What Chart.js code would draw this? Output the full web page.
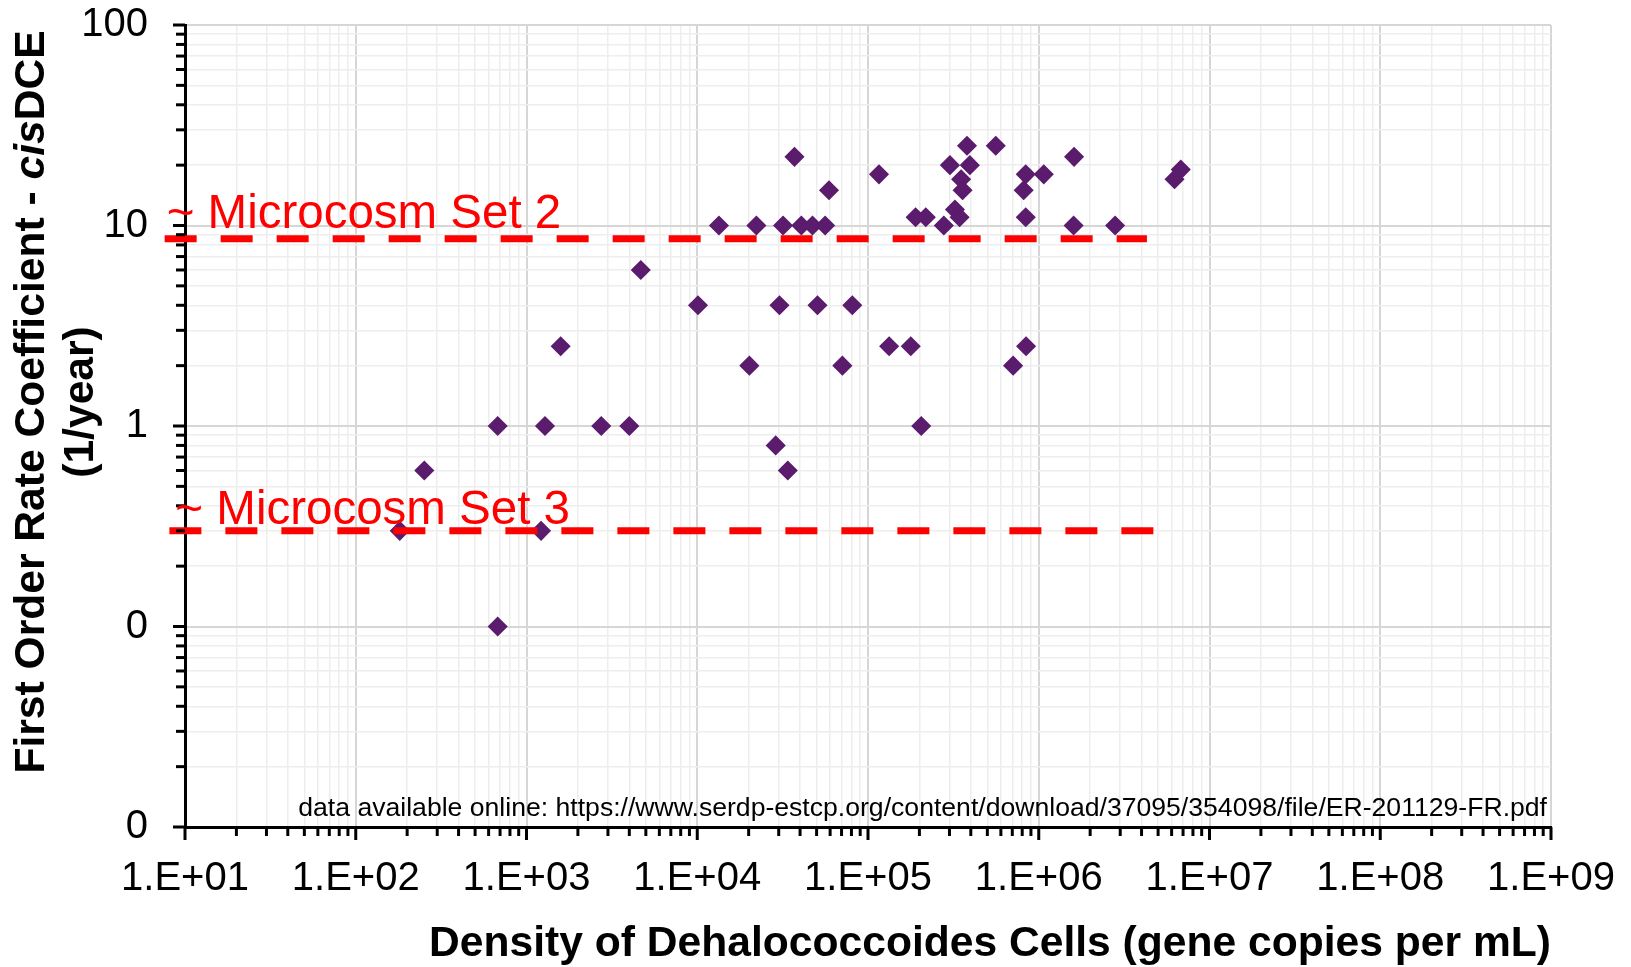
<!DOCTYPE html>
<html>
<head>
<meta charset="utf-8">
<script src="https://cdn.jsdelivr.net/npm/chart.js@4.4.1/dist/chart.umd.min.js"></script>
<style>
  html, body { margin: 0; padding: 0; background: #ffffff; }
  canvas { display: block; }
</style>
</head>
<body>
<canvas id="chart" width="1631" height="967"></canvas>
<script>
// Dehalococcoides cell density (gene copies per mL) and cis-DCE first order rate (1/year)
const densities = [
  181, 252, 678, 678, 1217, 1283, 1585, 2740, 4000, 4670,
  10100, 13400, 20200, 22200, 28800, 30300, 31800, 33900, 37100, 40700,
  47300, 50600, 56100, 59100, 70800, 80900, 116000, 133000, 178000, 190000,
  205000, 218000, 278000, 302000, 323000, 344000, 351000, 358000, 380000, 395000,
  560000, 708000, 839000, 816000, 839000, 843000, 1070000, 1610000, 1600000, 2800000,
  6240000, 6790000
];
const rates = [
  0.3, 0.6, 1, 0.1, 0.3, 1, 2.5, 1, 1, 6,
  4, 10, 2, 10, 0.8, 4, 10, 0.6, 22, 10,
  10, 4, 10, 15, 2, 4, 18, 2.5, 2.5, 11,
  1, 11, 10, 20, 12, 11, 17, 15, 25, 20,
  25, 2, 11, 15, 18, 2.5, 18, 22, 10, 10,
  17, 19
];

// Reference levels from the microcosm studies
const set2Label = '~ Microcosm Set 2';
const set2X = [7.6, 4.3e6];
const set2Y = [8.6, 8.6];
const set3Label = '~ Microcosm Set 3';
const set3X = [8.1, 4.7e6];
const set3Y = [0.3, 0.3];

// Axis decades and their printed labels
const xDecades = [1e1, 1e2, 1e3, 1e4, 1e5, 1e6, 1e7, 1e8, 1e9];
const xTickLabels = ['1.E+01', '1.E+02', '1.E+03', '1.E+04', '1.E+05', '1.E+06', '1.E+07', '1.E+08', '1.E+09'];
const yDecades = [0.01, 0.1, 1, 10, 100];
const yTickLabels = ['0', '0', '1', '10', '100'];

const xTitle = 'Density of Dehalococcoides Cells (gene copies per mL)';
const yTitleParts = [['First Order Rate Coefficient - ', false], ['cis', true], ['DCE', false]];
const yTitleLine2 = '(1/year)';
const sourceNote = 'data available online: https://www.serdp-estcp.org/content/download/37095/354098/file/ER-201129-FR.pdf';

const FONT = '"Liberation Sans", Arial, Helvetica, sans-serif';
const TITLE_SIZE = 42.6;
const PURPLE = '#5b1c6d';
const RED = '#ff0000';

Chart.defaults.font.family = FONT;
Chart.defaults.color = '#000000';

// 1..9 x 10^n ticks for each decade
function logTicks(decades) {
  const out = [];
  decades.forEach((d, i) => {
    if (i === decades.length - 1) { out.push({ value: d, major: true }); return; }
    for (let m = 1; m <= 9; m++) out.push({ value: d * m, major: m === 1 });
  });
  return out;
}
function isDecade(decades, v) {
  return decades.some(d => Math.abs(v - d) / d < 1e-9);
}
function decadeLabel(decades, labels, v) {
  const i = decades.findIndex(d => Math.abs(v - d) / d < 1e-9);
  return i >= 0 ? labels[i] : '';
}

const axisDecor = {
  id: 'axisDecor',
  afterDatasetsDraw(chart) {
    const { ctx, chartArea, scales: { x, y } } = chart;
    ctx.save();
    // outward tick marks
    ctx.strokeStyle = '#000000';
    ctx.lineWidth = 3;
    ctx.lineCap = 'butt';
    x.ticks.forEach(t => {
      const px = x.getPixelForValue(t.value);
      const len = isDecade(xDecades, t.value) ? 13 : 9;
      ctx.beginPath();
      ctx.moveTo(px, chartArea.bottom);
      ctx.lineTo(px, chartArea.bottom + len);
      ctx.stroke();
    });
    y.ticks.forEach(t => {
      const py = y.getPixelForValue(t.value);
      const len = isDecade(yDecades, t.value) ? 12 : 9;
      ctx.beginPath();
      ctx.moveTo(chartArea.left, py);
      ctx.lineTo(chartArea.left - len, py);
      ctx.stroke();
    });

    // microcosm labels above their dashed lines
    ctx.fillStyle = RED;
    ctx.font = '47.5px ' + FONT;
    ctx.textAlign = 'left';
    ctx.textBaseline = 'alphabetic';
    ctx.fillText(set2Label, x.getPixelForValue(set2X[0]) + 2, y.getPixelForValue(set2Y[0]) - 11);
    ctx.fillText(set3Label, x.getPixelForValue(set3X[0]) + 6, y.getPixelForValue(set3Y[0]) - 7);

    // source note
    ctx.fillStyle = '#000000';
    ctx.font = '26.6px ' + FONT;
    ctx.textAlign = 'right';
    ctx.fillText(sourceNote, chartArea.right - 4, chartArea.bottom - 11);
    ctx.restore();
  },
  afterDraw(chart) {
    const { ctx, chartArea } = chart;
    const cy = (chartArea.top + chartArea.bottom) / 2 - 24;
    ctx.save();
    ctx.fillStyle = '#000000';
    ctx.textBaseline = 'alphabetic';
    // first line with italic "cis"
    const fonts = parts => (parts[1] ? 'italic bold ' : 'bold ') + TITLE_SIZE + 'px ' + FONT;
    let total = 0;
    const widths = yTitleParts.map(p => { ctx.font = fonts(p); const w = ctx.measureText(p[0]).width; total += w; return w; });
    ctx.translate(44, cy);
    ctx.rotate(-Math.PI / 2);
    ctx.textAlign = 'left';
    let pos = -total / 2;
    yTitleParts.forEach((p, i) => { ctx.font = fonts(p); ctx.fillText(p[0], pos, 0); pos += widths[i]; });
    ctx.font = 'bold ' + TITLE_SIZE + 'px ' + FONT;
    ctx.textAlign = 'center';
    ctx.fillText(yTitleLine2, 0, 49);
    ctx.restore();
  }
};

new Chart(document.getElementById('chart'), {
  type: 'scatter',
  data: {
    datasets: [
      {
        type: 'line',
        label: set2Label,
        data: set2X.map((v, i) => ({ x: v, y: set2Y[i] })),
        borderColor: RED,
        borderWidth: 7,
        borderDash: [32, 24],
        borderCapStyle: 'butt',
        pointRadius: 0,
        showLine: true,
        fill: false,
        clip: false,
        order: 0
      },
      {
        type: 'line',
        label: set3Label,
        data: set3X.map((v, i) => ({ x: v, y: set3Y[i] })),
        borderColor: RED,
        borderWidth: 7,
        borderDash: [32, 24],
        borderCapStyle: 'butt',
        pointRadius: 0,
        showLine: true,
        fill: false,
        clip: false,
        order: 0
      },
      {
        label: 'Rate coefficient',
        data: densities.map((v, i) => ({ x: v, y: rates[i] })),
        pointStyle: 'rectRot',
        pointRadius: 9,
        pointHoverRadius: 9,
        pointBackgroundColor: PURPLE,
        pointBorderColor: PURPLE,
        pointBorderWidth: 1.5,
        showLine: false,
        order: 1
      }
    ]
  },
  options: {
    responsive: false,
    animation: false,
    events: [],
    layout: { padding: { top: 25, right: 80, bottom: 0, left: 0 } },
    plugins: { legend: { display: false }, tooltip: { enabled: false } },
    scales: {
      x: {
        type: 'logarithmic',
        min: 1e1,
        max: 1e9,
        afterBuildTicks: s => { s.ticks = logTicks(xDecades); },
        afterFit: s => { s.height = 140; },
        ticks: {
          autoSkip: false,
          maxRotation: 0,
          minRotation: 0,
          padding: 0,
          color: '#000000',
          font: { size: 40 },
          callback: v => decadeLabel(xDecades, xTickLabels, v)
        },
        grid: {
          drawTicks: true,
          tickLength: 28,
          tickColor: 'rgba(0,0,0,0)',
          color: c => (c.tick && isDecade(xDecades, c.tick.value)) ? '#d6d6d6' : '#eeeeee',
          lineWidth: c => (c.tick && isDecade(xDecades, c.tick.value)) ? 2 : 1.5
        },
        border: { display: true, color: '#000000', width: 3 },
        title: {
          display: true,
          text: xTitle,
          align: 'end',
          color: '#000000',
          padding: { top: 0, bottom: -3 },
          font: { size: TITLE_SIZE, weight: 'bold' }
        }
      },
      y: {
        type: 'logarithmic',
        min: 0.01,
        max: 100,
        afterBuildTicks: s => { s.ticks = logTicks(yDecades); },
        afterFit: s => { s.width = 185; },
        ticks: {
          autoSkip: false,
          padding: 0,
          color: '#000000',
          font: { size: 40 },
          callback: v => decadeLabel(yDecades, yTickLabels, v)
        },
        grid: {
          drawTicks: true,
          tickLength: 37,
          tickColor: 'rgba(0,0,0,0)',
          color: c => (c.tick && isDecade(yDecades, c.tick.value)) ? '#d6d6d6' : '#eeeeee',
          lineWidth: c => (c.tick && isDecade(yDecades, c.tick.value)) ? 2 : 1.5
        },
        border: { display: true, color: '#000000', width: 3 }
      }
    }
  },
  plugins: [axisDecor]
});
</script>
</body>
</html>
